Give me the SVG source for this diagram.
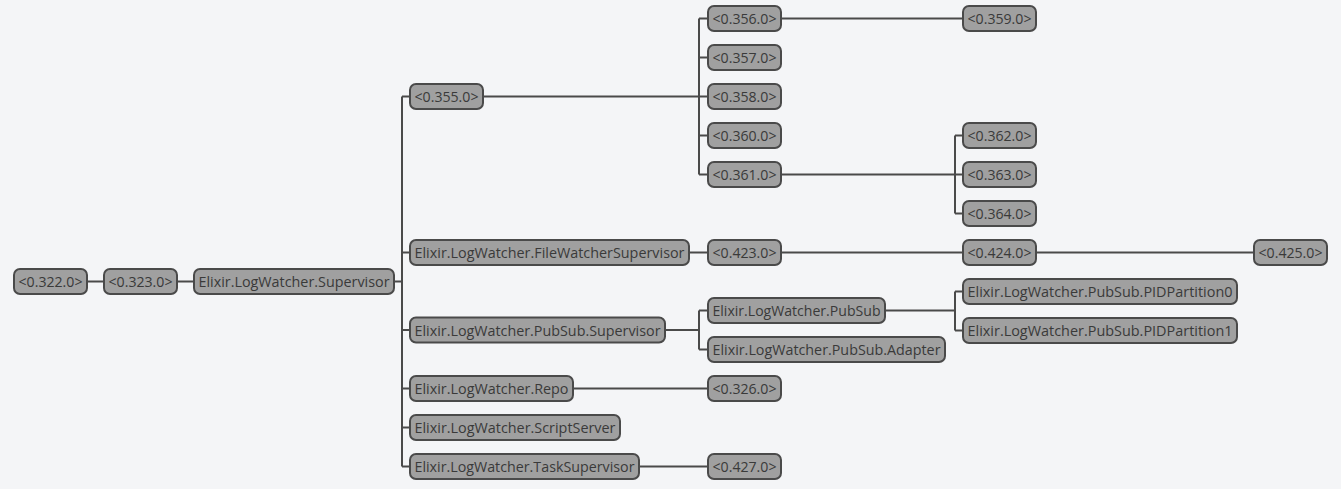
<svg xmlns="http://www.w3.org/2000/svg" width="1341" height="489" viewBox="0 0 1341 489">
<style>
.bg{fill:#f4f5f7}
.n rect{fill:#a0a0a0;stroke:#4a4a4a;stroke-width:2}
.n text{font-family:"Open Sans","Noto Sans","DejaVu Sans",sans-serif;font-size:14.5px;fill:#3a3a3a}
.c path{fill:none;stroke:#4a4a4a;stroke-width:2}
</style>
<rect class="bg" x="0" y="0" width="1341" height="489"/>
<g class="c" id="connectors">
<path d="M88 281.5H103M178 281.5H193"/>
<path d="M395 281.5H402M402 96.5V466.5M402 96.5H409M402 252.5H409M402 330H409M402 388.5H409M402 427.5H409M402 466.5H409"/>
<path d="M484 96.5H707M699 18.5V174.5M699 18.5H707M699 57.5H707M699 135.5H707M699 174.5H707"/>
<path d="M782 18.5H962"/>
<path d="M782 174.5H962M955 135.5V213.5M955 135.5H962M955 213.5H962"/>
<path d="M690 252.5H707M782 252.5H962M1037 252.5H1253"/>
<path d="M666 330H699M699 310.5V349.5M699 310.5H707M699 349.5H707"/>
<path d="M886 310.5H955M955 291.5V330.5M955 291.5H962M955 330.5H962"/>
<path d="M574 388.5H707M640 466.5H707"/>
</g>
<g class="n" id="n322"><rect x="14" y="269" width="73" height="25" rx="6"/><text x="18.5" y="287" textLength="64" lengthAdjust="spacingAndGlyphs">&lt;0.322.0&gt;</text></g>
<g class="n" id="n323"><rect x="104" y="269" width="73" height="25" rx="6"/><text x="108.5" y="287" textLength="64" lengthAdjust="spacingAndGlyphs">&lt;0.323.0&gt;</text></g>
<g class="n" id="sup"><rect x="194" y="269" width="200" height="25" rx="6"/><text x="198.5" y="287" textLength="191" lengthAdjust="spacingAndGlyphs">Elixir.LogWatcher.Supervisor</text></g>
<g class="n" id="n355"><rect x="410" y="84" width="73" height="25" rx="6"/><text x="414.5" y="102" textLength="64" lengthAdjust="spacingAndGlyphs">&lt;0.355.0&gt;</text></g>
<g class="n" id="fws"><rect x="410" y="240" width="279" height="25" rx="6"/><text x="414.5" y="258" textLength="270" lengthAdjust="spacingAndGlyphs">Elixir.LogWatcher.FileWatcherSupervisor</text></g>
<g class="n" id="pss"><rect x="410" y="317.5" width="255" height="25" rx="6"/><text x="414.5" y="335.5" textLength="246" lengthAdjust="spacingAndGlyphs">Elixir.LogWatcher.PubSub.Supervisor</text></g>
<g class="n" id="repo"><rect x="410" y="376" width="163" height="25" rx="6"/><text x="414.5" y="394" textLength="154" lengthAdjust="spacingAndGlyphs">Elixir.LogWatcher.Repo</text></g>
<g class="n" id="script"><rect x="410" y="415" width="210" height="25" rx="6"/><text x="414.5" y="433" textLength="201" lengthAdjust="spacingAndGlyphs">Elixir.LogWatcher.ScriptServer</text></g>
<g class="n" id="task"><rect x="410" y="454" width="229" height="25" rx="6"/><text x="414.5" y="472" textLength="220" lengthAdjust="spacingAndGlyphs">Elixir.LogWatcher.TaskSupervisor</text></g>
<g class="n" id="n356"><rect x="708" y="6" width="73" height="25" rx="6"/><text x="712.5" y="24" textLength="64" lengthAdjust="spacingAndGlyphs">&lt;0.356.0&gt;</text></g>
<g class="n" id="n357"><rect x="708" y="45" width="73" height="25" rx="6"/><text x="712.5" y="63" textLength="64" lengthAdjust="spacingAndGlyphs">&lt;0.357.0&gt;</text></g>
<g class="n" id="n358"><rect x="708" y="84" width="73" height="25" rx="6"/><text x="712.5" y="102" textLength="64" lengthAdjust="spacingAndGlyphs">&lt;0.358.0&gt;</text></g>
<g class="n" id="n360"><rect x="708" y="123" width="73" height="25" rx="6"/><text x="712.5" y="141" textLength="64" lengthAdjust="spacingAndGlyphs">&lt;0.360.0&gt;</text></g>
<g class="n" id="n361"><rect x="708" y="162" width="73" height="25" rx="6"/><text x="712.5" y="180" textLength="64" lengthAdjust="spacingAndGlyphs">&lt;0.361.0&gt;</text></g>
<g class="n" id="n359"><rect x="963" y="6" width="73" height="25" rx="6"/><text x="967.5" y="24" textLength="64" lengthAdjust="spacingAndGlyphs">&lt;0.359.0&gt;</text></g>
<g class="n" id="n362"><rect x="963" y="123" width="73" height="25" rx="6"/><text x="967.5" y="141" textLength="64" lengthAdjust="spacingAndGlyphs">&lt;0.362.0&gt;</text></g>
<g class="n" id="n363"><rect x="963" y="162" width="73" height="25" rx="6"/><text x="967.5" y="180" textLength="64" lengthAdjust="spacingAndGlyphs">&lt;0.363.0&gt;</text></g>
<g class="n" id="n364"><rect x="963" y="201" width="73" height="25" rx="6"/><text x="967.5" y="219" textLength="64" lengthAdjust="spacingAndGlyphs">&lt;0.364.0&gt;</text></g>
<g class="n" id="n423"><rect x="708" y="240" width="73" height="25" rx="6"/><text x="712.5" y="258" textLength="64" lengthAdjust="spacingAndGlyphs">&lt;0.423.0&gt;</text></g>
<g class="n" id="n424"><rect x="963" y="240" width="73" height="25" rx="6"/><text x="967.5" y="258" textLength="64" lengthAdjust="spacingAndGlyphs">&lt;0.424.0&gt;</text></g>
<g class="n" id="n425"><rect x="1254" y="240" width="73" height="25" rx="6"/><text x="1258.5" y="258" textLength="64" lengthAdjust="spacingAndGlyphs">&lt;0.425.0&gt;</text></g>
<g class="n" id="pubsub"><rect x="708" y="298" width="177" height="25" rx="6"/><text x="712.5" y="316" textLength="168" lengthAdjust="spacingAndGlyphs">Elixir.LogWatcher.PubSub</text></g>
<g class="n" id="adapter"><rect x="708" y="337" width="237" height="25" rx="6"/><text x="712.5" y="355" textLength="228" lengthAdjust="spacingAndGlyphs">Elixir.LogWatcher.PubSub.Adapter</text></g>
<g class="n" id="pid0"><rect x="963" y="279" width="274" height="25" rx="6"/><text x="967.5" y="297" textLength="265" lengthAdjust="spacingAndGlyphs">Elixir.LogWatcher.PubSub.PIDPartition0</text></g>
<g class="n" id="pid1"><rect x="963" y="318" width="274" height="25" rx="6"/><text x="967.5" y="336" textLength="265" lengthAdjust="spacingAndGlyphs">Elixir.LogWatcher.PubSub.PIDPartition1</text></g>
<g class="n" id="n326"><rect x="708" y="376" width="73" height="25" rx="6"/><text x="712.5" y="394" textLength="64" lengthAdjust="spacingAndGlyphs">&lt;0.326.0&gt;</text></g>
<g class="n" id="n427"><rect x="708" y="454" width="73" height="25" rx="6"/><text x="712.5" y="472" textLength="64" lengthAdjust="spacingAndGlyphs">&lt;0.427.0&gt;</text></g>
</svg>
